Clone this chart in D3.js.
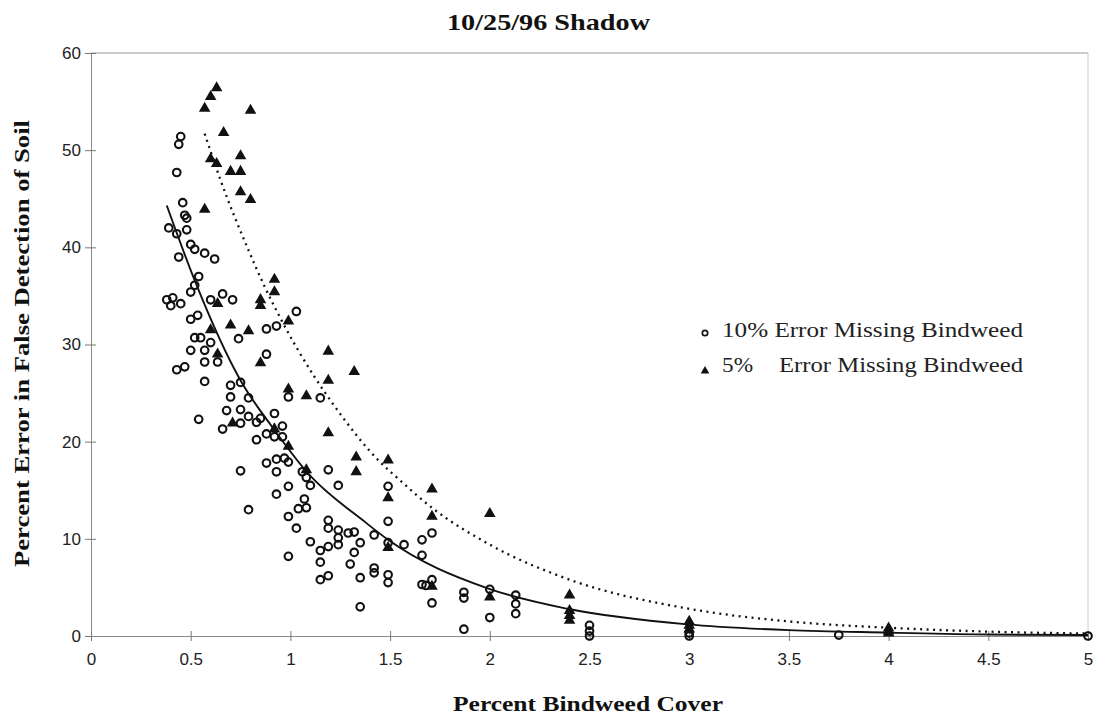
<!DOCTYPE html>
<html>
<head>
<meta charset="utf-8">
<script src="https://cdn.jsdelivr.net/npm/d3@7"></script>
<style>
  body { margin: 0; background: #fff; }
  svg { display: block; }
</style>
</head>
<body>
<div id="container"></div>
<script>
const width = 1098;
const height = 719;

const chartTitle = '10/25/96 Shadow';
const xTitle = 'Percent Bindweed Cover';
const yTitle = 'Percent Error in False Detection of Soil';

const xTicks = [0, 0.5, 1, 1.5, 2, 2.5, 3, 3.5, 4, 4.5, 5];
const xTickLabels = ['0', '0.5', '1', '1.5', '2', '2.5', '3', '3.5', '4', '4.5', '5'];
const yTicks = [0, 10, 20, 30, 40, 50, 60];
const yTickLabels = ['0', '10', '20', '30', '40', '50', '60'];

// [percent cover, percent error] - 10% error missing bindweed
const err10 = [
  [0.45, 51.4], [0.44, 50.6], [0.43, 47.7], [0.46, 44.6], [0.47, 43.3], [0.48, 43.0],
  [0.39, 42.0], [0.43, 41.4], [0.48, 41.8], [0.50, 40.3], [0.52, 39.8], [0.57, 39.4],
  [0.62, 38.8], [0.44, 39.0], [0.54, 37.0], [0.52, 36.1], [0.50, 35.4],
  [0.38, 34.6], [0.41, 34.8], [0.40, 34.0], [0.45, 34.2], [0.60, 34.6], [0.66, 35.2], [0.71, 34.6],
  [0.50, 32.6], [0.535, 33.0], [0.52, 30.7], [0.55, 30.7], [0.60, 30.2], [0.50, 29.4],
  [0.57, 29.4], [0.57, 28.2], [0.635, 28.2], [0.43, 27.4], [0.47, 27.7], [0.57, 26.2], [0.54, 22.3],
  [0.74, 30.6], [0.88, 31.6], [0.93, 31.9], [1.03, 33.4], [0.88, 29.0],
  [0.70, 25.8], [0.75, 26.1], [0.70, 24.6], [0.79, 24.5], [0.68, 23.2], [0.75, 23.3],
  [0.79, 22.6], [0.75, 21.9], [0.66, 21.3], [0.83, 22.0], [0.85, 22.4], [0.92, 22.9],
  [0.96, 21.6], [0.83, 20.2], [0.88, 20.8], [0.92, 20.5], [0.96, 20.5], [0.99, 24.6], [1.15, 24.5],
  [0.93, 18.2], [0.97, 18.3], [0.99, 17.9], [0.88, 17.8], [0.93, 16.9], [0.75, 17.0],
  [1.06, 16.9], [1.08, 16.3], [1.10, 15.5], [1.19, 17.1], [1.24, 15.5], [0.99, 15.4],
  [0.93, 14.6], [0.79, 13.0], [1.07, 14.1], [1.04, 13.1], [1.08, 13.2], [0.99, 12.3],
  [1.03, 11.1], [1.19, 11.9], [1.19, 11.1], [1.24, 10.9], [1.29, 10.6], [1.24, 10.1],
  [1.10, 9.7], [1.19, 9.2], [1.24, 9.4], [1.32, 10.7], [1.35, 9.6], [1.42, 10.4],
  [0.99, 8.2], [1.15, 8.8], [1.15, 7.6], [1.32, 8.6], [1.30, 7.4], [1.15, 5.8],
  [1.19, 6.2], [1.35, 6.0], [1.42, 7.0], [1.42, 6.5], [1.35, 3.0],
  [1.49, 15.4], [1.49, 11.8], [1.49, 9.6], [1.49, 6.3], [1.49, 5.5], [1.57, 9.4],
  [1.66, 9.9], [1.71, 10.6], [1.66, 8.3], [1.66, 5.3], [1.68, 5.2], [1.71, 5.8], [1.71, 3.4],
  [1.87, 4.5], [1.87, 3.9], [1.87, 0.7], [2.0, 4.8], [2.0, 1.9],
  [2.13, 4.2], [2.13, 3.3], [2.13, 2.3], [2.5, 1.1], [2.5, 0.5], [2.5, 0.0],
  [3.0, 0.3], [3.0, 0.0], [3.75, 0.1], [5.0, 0.0]
];

// [percent cover, percent error] - 5% error missing bindweed
const err5 = [
  [0.63, 56.4], [0.60, 55.5], [0.57, 54.3], [0.80, 54.1], [0.665, 51.8], [0.60, 49.1],
  [0.63, 48.6], [0.75, 49.4], [0.70, 47.8], [0.75, 47.8], [0.75, 45.7], [0.80, 44.9],
  [0.57, 43.9], [0.92, 36.7], [0.92, 35.4], [0.85, 34.6], [0.85, 34.0], [0.635, 34.2],
  [0.99, 32.4], [0.70, 32.0], [0.79, 31.4], [0.60, 31.5], [0.635, 29.0], [0.85, 28.1],
  [1.19, 29.3], [1.32, 27.2], [1.19, 26.3], [0.99, 25.4], [1.08, 24.7], [0.71, 21.9],
  [0.92, 21.3], [0.99, 19.5], [1.19, 20.9], [1.33, 18.4], [1.33, 16.9], [1.08, 17.1],
  [1.49, 18.1], [1.49, 14.2], [1.49, 9.1], [1.71, 15.1], [1.71, 12.3], [1.71, 5.1],
  [2.0, 12.6], [2.0, 4.0], [2.4, 4.2], [2.4, 2.6], [2.4, 2.1], [2.4, 1.6],
  [3.0, 1.5], [3.0, 1.1], [3.0, 0.7], [4.0, 0.8], [4.0, 0.5], [4.0, 0.3]
];

// trend lines, points
const trend10 = [
  [0.38, 44.3], [0.52, 36.6], [0.75, 26.3], [0.92, 21.2], [1.09, 16.7], [1.37, 11.8],
  [1.49, 9.9], [1.99, 4.9], [2.39, 2.8], [2.99, 1.2], [3.5, 0.6], [4.0, 0.35],
  [4.5, 0.15], [5.0, 0.1]
];
const trend5 = [
  [0.57, 51.7], [0.65, 46.9], [0.79, 39.7], [0.87, 36.0], [0.95, 32.7], [1.12, 26.7],
  [1.22, 23.7], [1.45, 17.9], [1.54, 16.2], [1.71, 13.2], [2.0, 9.4], [2.4, 5.8],
  [3.0, 2.8], [3.5, 1.5], [4.0, 0.85], [4.5, 0.45], [5.0, 0.25]
];

const legendLabels = ['10% Error Missing Bindweed', '5%', 'Error Missing Bindweed'];

const margin = {top: 53, right: 10, bottom: 83, left: 91};
const plotRight = width - margin.right;
const plotBottom = height - margin.bottom;

const svg = d3.select('#container').append('svg')
  .attr('width', width)
  .attr('height', height);

const x = d3.scaleLinear().domain([0, 5]).range([margin.left, plotRight]);
const y = d3.scaleLinear().domain([0, 60]).range([plotBottom, margin.top]);

const serif = '"Liberation Serif", "Times New Roman", serif';
const sans = '"Liberation Sans", Arial, sans-serif';

// frame: top and right edges are faint
svg.append('line')
  .attr('x1', x(0)).attr('x2', x(5))
  .attr('y1', y(60)).attr('y2', y(60))
  .attr('stroke', '#999').attr('stroke-width', 1.2);
svg.append('line')
  .attr('x1', x(5)).attr('x2', x(5))
  .attr('y1', y(60)).attr('y2', y(0))
  .attr('stroke', '#ccc').attr('stroke-width', 1);

// y axis with ticks crossing the line
const yAxis = svg.append('g')
  .attr('transform', `translate(${x(0)},0)`)
  .call(d3.axisLeft(y)
    .tickValues(yTicks)
    .tickFormat((d, i) => yTickLabels[i])
    .tickSize(6)
    .tickPadding(6));
yAxis.select('.domain').attr('stroke', '#888');
yAxis.selectAll('.tick line').attr('stroke', '#777').attr('x2', 5).attr('x1', -6);
yAxis.selectAll('.tick text')
  .attr('font-family', sans).attr('font-size', 17).attr('fill', '#222')
  .attr('x', -10);

const xAxis = svg.append('g')
  .attr('transform', `translate(0,${y(0)})`)
  .call(d3.axisBottom(x)
    .tickValues(xTicks)
    .tickFormat((d, i) => xTickLabels[i])
    .tickSize(5)
    .tickPadding(12));
xAxis.select('.domain').attr('stroke', '#888');
xAxis.selectAll('.tick line').attr('stroke', '#777').attr('y1', -5).attr('y2', 5);
xAxis.selectAll('.tick text')
  .attr('font-family', sans).attr('font-size', 17).attr('fill', '#222');

// trend lines
const line = d3.line()
  .x(d => x(d[0]))
  .y(d => y(d[1]))
  .curve(d3.curveMonotoneX);

svg.append('path')
  .datum(trend10)
  .attr('d', line)
  .attr('fill', 'none')
  .attr('stroke', '#111')
  .attr('stroke-width', 1.9);

svg.append('path')
  .datum(trend5)
  .attr('d', line)
  .attr('fill', 'none')
  .attr('stroke', '#111')
  .attr('stroke-width', 2.3)
  .attr('stroke-dasharray', '2,4.5');

// markers
svg.append('g')
  .selectAll('circle')
  .data(err10)
  .enter()
  .append('circle')
  .attr('cx', d => x(d[0]))
  .attr('cy', d => y(d[1]))
  .attr('r', 3.8)
  .attr('fill', 'none')
  .attr('stroke', '#111')
  .attr('stroke-width', 2.1);

const tri = d3.symbol().type(d3.symbolTriangle).size(58);
svg.append('g')
  .selectAll('path')
  .data(err5)
  .enter()
  .append('path')
  .attr('d', tri)
  .attr('transform', d => `translate(${x(d[0])},${y(d[1])})`)
  .attr('fill', '#111');

// legend
const legend = svg.append('g');
legend.append('circle')
  .attr('cx', 705).attr('cy', 333).attr('r', 2.7)
  .attr('fill', 'none').attr('stroke', '#111').attr('stroke-width', 1.7);
legend.append('path')
  .attr('d', d3.symbol().type(d3.symbolTriangle).size(32))
  .attr('transform', 'translate(705,371)')
  .attr('fill', '#111');
legend.append('text')
  .attr('x', 722).attr('y', 337)
  .attr('font-family', serif).attr('font-size', 21).attr('fill', '#222')
  .attr('textLength', 301).attr('lengthAdjust', 'spacingAndGlyphs')
  .text(legendLabels[0]);
legend.append('text')
  .attr('x', 722).attr('y', 372)
  .attr('font-family', serif).attr('font-size', 21).attr('fill', '#222')
  .attr('textLength', 31).attr('lengthAdjust', 'spacingAndGlyphs')
  .text(legendLabels[1]);
legend.append('text')
  .attr('x', 779).attr('y', 372)
  .attr('font-family', serif).attr('font-size', 21).attr('fill', '#222')
  .attr('textLength', 244).attr('lengthAdjust', 'spacingAndGlyphs')
  .text(legendLabels[2]);

// titles
svg.append('text')
  .attr('x', 447).attr('y', 30)
  .attr('font-family', serif).attr('font-weight', 'bold').attr('font-size', 23)
  .attr('fill', '#111')
  .attr('textLength', 203).attr('lengthAdjust', 'spacingAndGlyphs')
  .text(chartTitle);

svg.append('text')
  .attr('x', 453).attr('y', 711)
  .attr('font-family', serif).attr('font-weight', 'bold').attr('font-size', 20)
  .attr('fill', '#111')
  .attr('textLength', 270).attr('lengthAdjust', 'spacingAndGlyphs')
  .text(xTitle);

svg.append('text')
  .attr('transform', 'translate(29,567) rotate(-90)')
  .attr('font-family', serif).attr('font-weight', 'bold').attr('font-size', 20)
  .attr('fill', '#111')
  .attr('textLength', 447).attr('lengthAdjust', 'spacingAndGlyphs')
  .text(yTitle);
</script>
</body>
</html>
